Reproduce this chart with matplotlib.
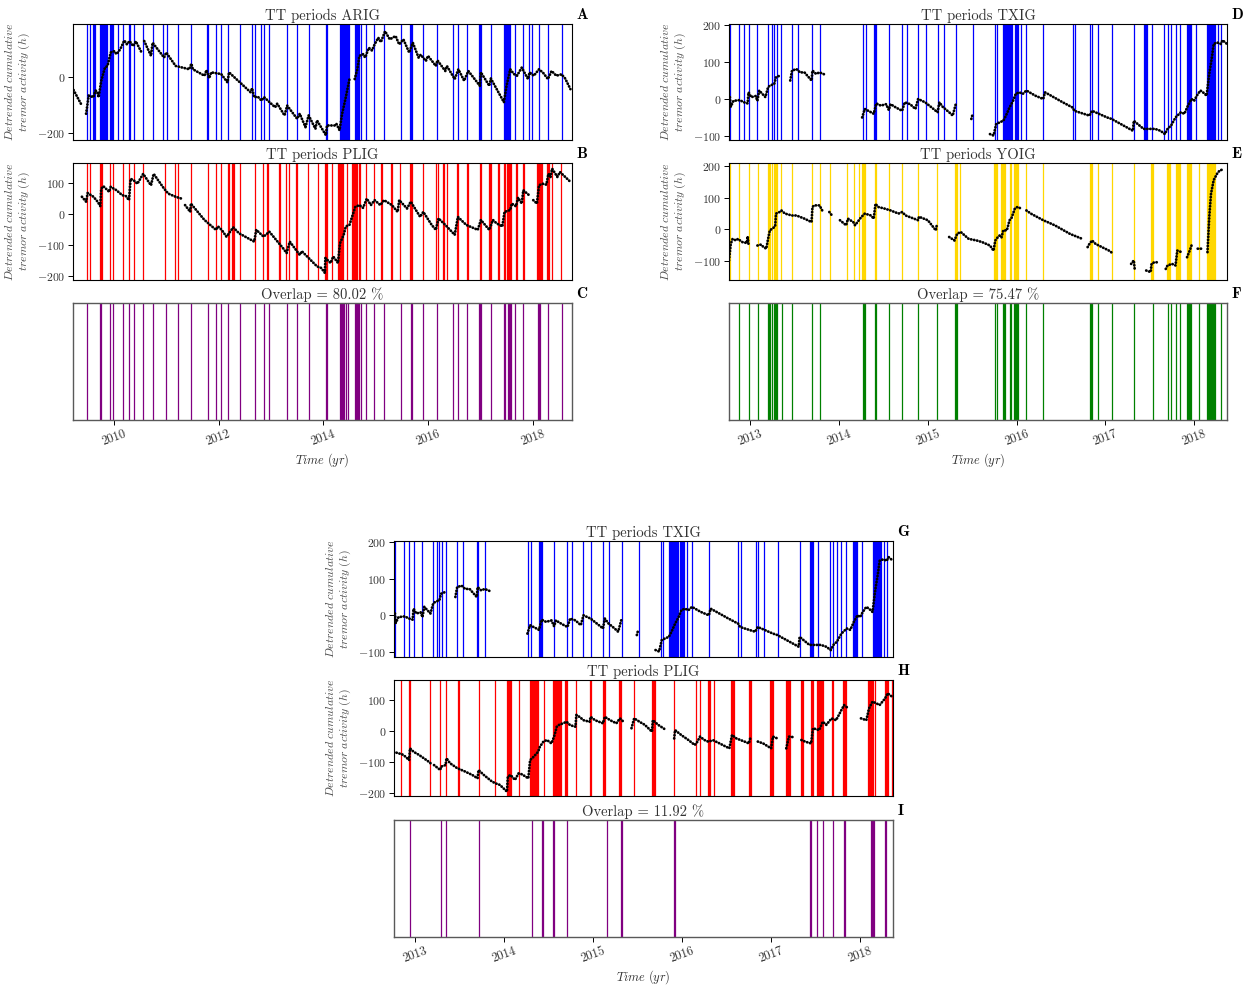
import numpy as np
import matplotlib
matplotlib.use("Agg")
import matplotlib.pyplot as plt

plt.rcParams.update({
    "font.family": "serif",
    "font.serif": ["cmr10"],
    "mathtext.fontset": "cm",
    "axes.formatter.use_mathtext": True,
    "axes.linewidth": 0.8,
})

# ---- tremor (TT) periods, decimal years: (start, end); start == end -> single line
arig_periods = [
    (2009.49, 2009.49), (2009.55, 2009.55), (2009.60, 2009.635), (2009.74, 2009.87),
    (2009.93, 2009.99), (2010.08, 2010.08), (2010.175, 2010.175), (2010.285, 2010.285),
    (2010.31, 2010.31), (2010.39, 2010.39), (2010.55, 2010.55), (2010.75, 2010.75),
    (2010.93, 2010.93), (2011.01, 2011.01), (2011.23, 2011.23), (2011.47, 2011.47),
    (2011.77, 2011.80), (2011.96, 2011.96), (2012.05, 2012.05), (2012.18, 2012.18),
    (2012.41, 2012.41), (2012.64, 2012.64), (2012.69, 2012.69), (2012.82, 2012.82),
    (2012.87, 2012.87), (2012.96, 2012.96), (2013.31, 2013.31), (2013.50, 2013.50),
    (2013.72, 2013.72), (2014.05, 2014.07), (2014.31, 2014.50), (2014.61, 2014.69),
    (2014.72, 2014.72), (2014.81, 2014.81), (2014.96, 2014.96), (2015.15, 2015.15),
    (2015.48, 2015.48), (2015.66, 2015.69), (2015.91, 2015.91), (2016.17, 2016.17),
    (2016.47, 2016.47), (2016.58, 2016.58), (2016.74, 2016.74), (2016.98, 2017.01),
    (2017.20, 2017.20), (2017.45, 2017.57), (2017.66, 2017.66), (2017.81, 2017.81),
    (2017.92, 2017.92), (2017.98, 2017.98), (2018.12, 2018.12), (2018.29, 2018.29),
    (2018.55, 2018.55),
]

plig_periods = [
    (2009.49, 2009.49), (2009.55, 2009.55), (2009.74, 2009.77), (2009.93, 2009.93),
    (2009.99, 2009.99), (2010.175, 2010.175), (2010.29, 2010.29), (2010.39, 2010.39),
    (2010.55, 2010.55), (2010.98, 2010.98), (2011.17, 2011.17), (2011.23, 2011.23),
    (2011.47, 2011.47), (2011.80, 2011.80), (2011.96, 2011.96), (2012.05, 2012.05),
    (2012.18, 2012.20), (2012.25, 2012.29), (2012.41, 2012.41), (2012.69, 2012.69),
    (2012.84, 2012.84), (2012.93, 2012.94), (2013.16, 2013.17), (2013.28, 2013.28),
    (2013.34, 2013.35), (2013.48, 2013.49), (2013.71, 2013.71), (2013.90, 2013.90),
    (2014.03, 2014.07), (2014.16, 2014.16), (2014.29, 2014.38), (2014.45, 2014.45),
    (2014.55, 2014.64), (2014.68, 2014.70), (2014.81, 2014.81), (2014.96, 2014.97),
    (2015.11, 2015.13), (2015.29, 2015.31), (2015.46, 2015.46), (2015.66, 2015.69),
    (2015.91, 2015.91), (2016.16, 2016.16), (2016.20, 2016.20), (2016.29, 2016.31),
    (2016.36, 2016.36), (2016.55, 2016.58), (2016.75, 2016.77), (2016.99, 2017.02),
    (2017.17, 2017.21), (2017.34, 2017.36), (2017.45, 2017.47), (2017.51, 2017.58),
    (2017.68, 2017.70), (2017.81, 2017.84), (2018.09, 2018.15), (2018.17, 2018.17),
    (2018.28, 2018.31), (2018.36, 2018.36), (2018.54, 2018.54),
]

txig_periods = [
    (2012.77, 2012.77), (2012.87, 2012.87), (2012.93, 2012.93), (2012.98, 2012.98),
    (2013.08, 2013.08), (2013.20, 2013.20), (2013.24, 2013.24), (2013.27, 2013.27),
    (2013.30, 2013.30), (2013.35, 2013.35), (2013.47, 2013.47), (2013.54, 2013.54),
    (2013.69, 2013.70), (2013.78, 2013.78), (2014.27, 2014.27), (2014.30, 2014.30),
    (2014.39, 2014.42), (2014.56, 2014.56), (2014.71, 2014.71), (2014.76, 2014.76),
    (2014.89, 2014.89), (2014.98, 2014.98), (2015.11, 2015.11), (2015.18, 2015.18),
    (2015.32, 2015.32), (2015.51, 2015.51), (2015.76, 2015.76), (2015.78, 2015.78),
    (2015.85, 2015.95), (2015.98, 2016.02), (2016.05, 2016.05), (2016.11, 2016.11),
    (2016.30, 2016.30), (2016.63, 2016.63), (2016.66, 2016.66), (2016.83, 2016.83),
    (2016.85, 2016.85), (2016.92, 2016.92), (2017.08, 2017.08), (2017.32, 2017.32),
    (2017.44, 2017.47), (2017.53, 2017.53), (2017.66, 2017.66), (2017.70, 2017.70),
    (2017.74, 2017.74), (2017.79, 2017.79), (2017.84, 2017.84), (2017.92, 2017.97),
    (2018.02, 2018.02), (2018.14, 2018.23), (2018.27, 2018.27), (2018.30, 2018.30),
]

yoig_periods = [
    (2012.77, 2012.77), (2012.87, 2012.87), (2012.98, 2012.98), (2013.09, 2013.09),
    (2013.20, 2013.22), (2013.24, 2013.24), (2013.27, 2013.30), (2013.35, 2013.35),
    (2013.47, 2013.47), (2013.69, 2013.70), (2013.78, 2013.78), (2013.90, 2013.90),
    (2014.09, 2014.09), (2014.17, 2014.17), (2014.23, 2014.23), (2014.26, 2014.29),
    (2014.40, 2014.42), (2014.56, 2014.56), (2014.71, 2014.71), (2014.89, 2014.89),
    (2015.10, 2015.10), (2015.31, 2015.33), (2015.36, 2015.36), (2015.75, 2015.78),
    (2015.82, 2015.87), (2015.92, 2015.94), (2015.97, 2016.01), (2016.11, 2016.11),
    (2016.30, 2016.30), (2016.83, 2016.85), (2016.92, 2016.92), (2017.08, 2017.08),
    (2017.32, 2017.32), (2017.51, 2017.54), (2017.69, 2017.73), (2017.80, 2017.84),
    (2017.92, 2017.97), (2018.05, 2018.05), (2018.15, 2018.23),
]

# overlap periods
arig_plig_overlap = [
    (2009.49, 2009.49), (2009.74, 2009.76), (2009.93, 2009.93), (2009.99, 2009.99),
    (2010.175, 2010.175), (2010.29, 2010.29), (2010.39, 2010.39), (2010.55, 2010.55),
    (2010.75, 2010.75), (2011.00, 2011.00), (2011.23, 2011.23), (2011.47, 2011.47),
    (2011.80, 2011.80), (2011.96, 2011.96), (2012.05, 2012.05), (2012.18, 2012.18),
    (2012.41, 2012.41), (2012.69, 2012.69), (2012.87, 2012.87), (2012.96, 2012.96),
    (2013.31, 2013.31), (2013.50, 2013.50), (2013.72, 2013.72), (2014.05, 2014.07),
    (2014.32, 2014.39), (2014.43, 2014.43), (2014.47, 2014.47), (2014.61, 2014.69),
    (2014.72, 2014.72), (2014.81, 2014.81), (2014.96, 2014.96), (2015.15, 2015.16),
    (2015.48, 2015.48), (2015.67, 2015.69), (2015.91, 2015.91), (2016.17, 2016.17),
    (2016.47, 2016.47), (2016.58, 2016.58), (2016.74, 2016.74), (2016.98, 2017.01),
    (2017.20, 2017.20), (2017.45, 2017.47), (2017.52, 2017.58), (2017.66, 2017.66),
    (2017.81, 2017.82), (2018.10, 2018.13), (2018.29, 2018.29), (2018.55, 2018.55),
]

txig_yoig_overlap = [
    (2012.87, 2012.87), (2012.98, 2012.98), (2013.09, 2013.09), (2013.20, 2013.22),
    (2013.24, 2013.24), (2013.27, 2013.30), (2013.36, 2013.36), (2013.47, 2013.47),
    (2013.69, 2013.70), (2013.78, 2013.78), (2014.27, 2014.29), (2014.40, 2014.42),
    (2014.56, 2014.56), (2014.71, 2014.71), (2014.89, 2014.89), (2015.10, 2015.10),
    (2015.31, 2015.33), (2015.76, 2015.76), (2015.78, 2015.78), (2015.85, 2015.87),
    (2015.92, 2015.94), (2015.97, 2016.01), (2016.11, 2016.11), (2016.30, 2016.30),
    (2016.83, 2016.85), (2016.92, 2016.92), (2017.08, 2017.08), (2017.32, 2017.32),
    (2017.54, 2017.54), (2017.70, 2017.70), (2017.74, 2017.74), (2017.79, 2017.79),
    (2017.84, 2017.84), (2017.92, 2017.97), (2018.05, 2018.05), (2018.15, 2018.23),
    (2018.30, 2018.30),
]

txig_plig_overlap = [
    (2012.94, 2012.94), (2013.29, 2013.29), (2013.34, 2013.34), (2013.71, 2013.71),
    (2014.31, 2014.31), (2014.42, 2014.43), (2014.55, 2014.56), (2014.71, 2014.71),
    (2015.16, 2015.16), (2015.31, 2015.32), (2015.91, 2015.92), (2017.44, 2017.45),
    (2017.52, 2017.52), (2017.58, 2017.58), (2017.69, 2017.69), (2017.82, 2017.83),
    (2018.12, 2018.14), (2018.16, 2018.16), (2018.28, 2018.29),
]

# ---- detrended cumulative tremor activity (h); None = data gap
arig_curve = [
    (2009.23, -46), (2009.39, -102), None,
    (2009.47, -131), (2009.52, -66), (2009.61, -72), (2009.65, -48), (2009.68, -52),
    (2009.71, -72), (2009.76, -13), (2009.83, 34), (2009.88, 40), (2009.94, 88),
    (2010.01, 93), (2010.05, 82), (2010.12, 99), (2010.20, 131), (2010.25, 117),
    (2010.30, 129), (2010.37, 111), (2010.42, 128), (2010.53, 88), None,
    (2010.58, 129), (2010.71, 76), (2010.74, 123), (2010.96, 70), (2011.00, 88),
    (2011.18, 40), (2011.40, 30), (2011.44, 28), (2011.48, 48), (2011.51, 28),
    (2011.73, 5), (2011.77, 25), (2011.82, -4), (2011.86, 17), (2012.05, 11),
    (2012.17, -19), (2012.20, 17), (2012.61, -54), (2012.64, -40), (2012.68, -72),
    (2012.75, -70), (2012.82, -84), (2012.87, -72), (2013.08, -108), (2013.12, -95),
    (2013.26, -137), (2013.31, -102), (2013.50, -149), (2013.55, -131), (2013.66, -179),
    (2013.72, -137), (2013.85, -185), (2013.88, -155), (2014.05, -208), (2014.07, -173),
    (2014.22, -173), (2014.25, -167), (2014.31, -190), (2014.36, -131), (2014.43, -72),
    (2014.50, -7), None,
    (2014.60, -7), (2014.65, 28), (2014.69, 76), (2014.76, 82), (2014.80, 70),
    (2014.87, 105), (2014.93, 95), (2014.98, 117), (2015.05, 141), (2015.10, 125),
    (2015.18, 164), (2015.27, 135), (2015.38, 147), (2015.45, 117), (2015.53, 135),
    (2015.64, 88), (2015.71, 123), (2015.82, 70), (2015.86, 80), (2015.96, 58),
    (2016.00, 76), (2016.15, 40), (2016.18, 60), (2016.33, 22), (2016.36, 40),
    (2016.51, -7), (2016.58, 28), (2016.69, -13), (2016.77, 22), (2016.99, -31),
    (2017.01, 17), (2017.17, -31), (2017.20, -5), (2017.45, -90), (2017.50, -31),
    (2017.57, 28), (2017.64, 11), (2017.70, 5), (2017.79, 34), (2017.91, -7),
    (2017.94, 17), (2018.02, 5), (2018.12, 28), (2018.20, 15), (2018.29, -7),
    (2018.36, 22), (2018.45, 5), (2018.55, 10), (2018.62, -5), (2018.72, -43),
]

plig_curve_long = [
    (2009.23, 104), None,
    (2009.39, 56), (2009.47, 40), (2009.50, 68), (2009.61, 56), (2009.69, 40),
    (2009.74, 26), (2009.76, 82), (2009.80, 90), (2009.91, 72), (2009.94, 88),
    (2010.05, 77), (2010.16, 61), (2010.23, 58), (2010.29, 45), (2010.32, 114),
    (2010.38, 109), (2010.45, 98), (2010.56, 130), (2010.64, 110), (2010.71, 93),
    (2010.76, 130), (2010.96, 82), (2011.04, 66), (2011.18, 56), (2011.29, 50), None,
    (2011.36, 29), (2011.46, 7), (2011.47, 34), (2011.73, -19), (2011.84, -35),
    (2011.95, -51), (2011.99, -40), (2012.06, -51), (2012.15, -73), (2012.20, -62),
    (2012.28, -43), (2012.39, -62), (2012.68, -89), (2012.72, -51), (2012.86, -73),
    (2012.97, -57), (2013.23, -110), (2013.30, -126), (2013.36, -89), (2013.55, -132),
    (2013.59, -120), (2013.88, -169), (2013.96, -174), (2014.03, -190), (2014.04, -142),
    (2014.14, -158), (2014.19, -137), (2014.28, -158), (2014.32, -94), (2014.39, -67),
    (2014.43, -40), (2014.50, -35), (2014.58, 7), (2014.61, 23), (2014.69, 29),
    (2014.76, 20), (2014.83, 50), (2014.91, 29), (2014.98, 45), (2015.09, 29),
    (2015.16, 45), (2015.31, 29), (2015.42, 7), (2015.45, 45), (2015.60, 18),
    (2015.67, 40), (2015.85, -9), (2015.91, 7), (2016.07, -35), (2016.15, -51),
    (2016.20, -14), (2016.33, -35), (2016.51, -67), (2016.57, -9), (2016.73, -35),
    (2016.95, -51), (2017.01, -19), (2017.17, -51), (2017.24, -19), (2017.31, -30),
    (2017.42, -40), (2017.46, 7), (2017.57, 13), (2017.60, 34), (2017.68, 25),
    (2017.72, 53), (2017.79, 34), (2017.82, 77), (2017.93, 61), None,
    (2018.01, 45), (2018.08, 34), (2018.12, 93), (2018.19, 98), (2018.26, 95),
    (2018.30, 130), (2018.34, 120), (2018.37, 147), (2018.47, 120), (2018.52, 136),
    (2018.72, 104),
]

txig_curve = [
    (2012.77, 5), (2012.78, -21), (2012.81, -5), (2012.88, -3), (2012.93, -9),
    (2012.97, -12), (2012.98, 18), (2013.01, 5), (2013.06, 8), (2013.08, -5),
    (2013.10, 23), (2013.17, 5), (2013.20, 32), (2013.22, 36), (2013.27, 41),
    (2013.29, 59), (2013.33, 63), None,
    (2013.45, 50), (2013.47, 77), (2013.52, 81), (2013.56, 72), (2013.61, 72),
    (2013.69, 50), (2013.70, 77), (2013.74, 68), (2013.78, 72), (2013.84, 66), None,
    (2014.26, -50), (2014.29, -27), (2014.36, -36), (2014.39, -40), (2014.42, -12),
    (2014.47, -18), (2014.53, -14), (2014.56, -30), (2014.58, -14), (2014.64, -23),
    (2014.71, -32), (2014.74, -9), (2014.80, -14), (2014.86, -27), (2014.89, 0),
    (2014.97, -9), (2015.11, -36), (2015.13, -9), (2015.17, -22), (2015.24, -36),
    (2015.28, -45), (2015.32, -9), None,
    (2015.49, -54), (2015.50, -45), None,
    (2015.70, -95), (2015.74, -99), (2015.77, -68), (2015.81, -63), (2015.85, -59),
    (2015.88, -45), (2015.92, -23), (2015.96, -5), (2015.99, 14), (2016.03, 18),
    (2016.07, 14), (2016.11, 23), (2016.21, 9), (2016.30, 0), (2016.32, 18),
    (2016.38, 10), (2016.52, -9), (2016.63, -23), (2016.65, -32), (2016.82, -45),
    (2016.85, -32), (2017.02, -50), (2017.07, -54), (2017.31, -86), (2017.32, -59),
    (2017.35, -65), (2017.43, -81), (2017.48, -81), (2017.56, -81), (2017.62, -86),
    (2017.67, -95), (2017.70, -81), (2017.74, -72), (2017.79, -50), (2017.85, -36),
    (2017.89, -40), (2017.93, -18), (2017.97, 0), (2018.00, -5), (2018.03, 9),
    (2018.07, 23), (2018.10, 18), (2018.14, 9), (2018.17, 68), (2018.20, 113),
    (2018.22, 149), (2018.26, 153), (2018.30, 149), (2018.32, 159), (2018.37, 149),
]

yoig_curve = [
    (2012.76, -98), (2012.78, -46), (2012.80, -30), (2012.84, -35), (2012.86, -30),
    (2012.91, -40), (2012.96, -43), (2012.97, -22), (2012.98, -48), None,
    (2013.08, -51), (2013.12, -48), (2013.15, -56), (2013.18, -61), (2013.20, -30),
    (2013.22, -3), (2013.26, 5), (2013.28, 10), (2013.29, 50), (2013.33, 55),
    (2013.35, 60), (2013.39, 50), (2013.47, 44), (2013.52, 44), (2013.61, 34),
    (2013.69, 23), (2013.70, 71), (2013.72, 76), (2013.78, 76), (2013.81, 60), None,
    (2013.89, 55), (2013.92, 44), None,
    (2014.01, 29), (2014.08, 13), (2014.10, 34), (2014.16, 23), (2014.18, 13),
    (2014.25, 39), (2014.29, 50), (2014.36, 44), (2014.39, 34), (2014.41, 81),
    (2014.44, 71), (2014.51, 66), (2014.58, 60), (2014.67, 50), (2014.71, 55),
    (2014.75, 44), (2014.89, 29), (2014.90, 40), (2015.00, 29), (2015.09, -3),
    (2015.10, 13), None,
    (2015.24, -24), (2015.30, -35), (2015.33, -14), (2015.37, -8), (2015.46, -30),
    (2015.55, -35), (2015.61, -40), (2015.70, -51), (2015.74, -67), (2015.76, -35),
    (2015.79, -24), (2015.81, -19), (2015.83, -25), (2015.85, -3), (2015.89, -3),
    (2015.92, 29), (2015.94, 34), (2015.98, 66), (2016.01, 71), (2016.05, 66), None,
    (2016.11, 60), (2016.16, 50), (2016.30, 29), (2016.43, 13), (2016.60, -14),
    (2016.74, -30), None,
    (2016.80, -56), (2016.82, -46), (2016.85, -35), (2016.89, -46), (2017.04, -67),
    (2017.09, -77), None,
    (2017.29, -109), (2017.32, -98), (2017.33, -125), None,
    (2017.46, -130), (2017.51, -135), (2017.52, -109), (2017.55, -104), (2017.59, -104), None,
    (2017.68, -125), (2017.70, -114), (2017.75, -109), (2017.79, -114), (2017.81, -67),
    (2017.86, -72), None,
    (2017.92, -88), (2017.95, -67), (2017.97, -51), None,
    (2018.04, -61), (2018.10, -61), None,
    (2018.15, -72), (2018.17, 39), (2018.19, 113), (2018.22, 156), (2018.26, 177),
    (2018.29, 187), (2018.32, 189),
]

plig_curve_short = [
    (2012.755, -67), (2012.81, -72), (2012.85, -75), (2012.89, -83), (2012.93, -94),
    (2012.94, -56), (2012.98, -67), (2013.04, -77), (2013.15, -99), (2013.17, -104), None,
    (2013.21, -110), (2013.28, -126), (2013.29, -115), (2013.34, -110), (2013.35, -88),
    (2013.39, -104), (2013.47, -120), (2013.56, -131), (2013.64, -142), (2013.70, -153),
    (2013.71, -126), (2013.77, -142), (2013.86, -163), (2013.90, -169), (2013.95, -174),
    (2013.99, -185), (2014.03, -196), (2014.04, -147), (2014.07, -142), (2014.12, -158),
    (2014.16, -137), (2014.20, -140), (2014.27, -153), (2014.29, -94), (2014.33, -83),
    (2014.38, -67), (2014.40, -51), (2014.44, -34), (2014.48, -29), (2014.53, -40),
    (2014.56, -18), (2014.59, 14), (2014.61, 19), (2014.66, 25), (2014.70, 30),
    (2014.74, 19), (2014.80, 14), (2014.81, 52), (2014.85, 45), (2014.89, 35),
    (2014.96, 30), (2014.97, 46), (2015.02, 35), (2015.11, 25), (2015.13, 46),
    (2015.19, 35), (2015.26, 25), (2015.30, 41), (2015.34, 30), None,
    (2015.43, 9), (2015.46, 41), (2015.52, 30), (2015.58, 20), (2015.66, -2),
    (2015.67, 35), (2015.73, 20), (2015.82, 3), None,
    (2015.91, -24), (2015.92, 3), (2015.99, -13), (2016.07, -29), (2016.14, -45),
    (2016.16, -40), (2016.20, -18), (2016.25, -29), (2016.29, -34), (2016.35, -30),
    (2016.42, -40), (2016.53, -56), (2016.56, -13), (2016.61, -24), (2016.70, -34),
    (2016.75, -40), (2016.77, -18), None,
    (2016.85, -34), (2016.91, -40), (2017.00, -56), (2017.02, -18), (2017.08, -25), None,
    (2017.17, -56), (2017.20, -18), (2017.26, -20), None,
    (2017.34, -29), (2017.39, -35), (2017.45, -40), (2017.47, 9), (2017.54, 3),
    (2017.58, 30), (2017.62, 20), (2017.68, 41), (2017.73, 35), (2017.82, 84),
    (2017.86, 75), None,
    (2018.01, 41), (2018.07, 35), (2018.10, 73), (2018.14, 95), (2018.18, 90),
    (2018.22, 84), (2018.28, 105), (2018.31, 122), (2018.36, 111),
]

overlap_pct = {"AP": 80.02, "TY": 75.47, "TP": 11.92}

xlim_long = (2009.22, 2018.75)
xlim_short = (2012.76, 2018.37)
years_long = [2010, 2012, 2014, 2016, 2018]
years_short = [2013, 2014, 2015, 2016, 2017, 2018]

YLABEL = "$Detrended\\ cumulative$\n$tremor\\ activity\\ (h)$"
TXT = "0.2"


def to_xy(curve):
    t, v = [], []
    for p in curve:
        if p is None:
            t.append(np.nan)
            v.append(np.nan)
        else:
            t.append(p[0])
            v.append(p[1])
    return np.array(t), np.array(v)


def draw_periods(ax, periods, color):
    for s, e in periods:
        if e - s < 1e-6:
            ax.axvline(s, color=color, lw=0.9, zorder=1)
        else:
            ax.axvspan(s, e, color=color, lw=0.9, zorder=1)


def station_panel(ax, periods, color, curve, title, letter, xlim, ylim, yticks):
    draw_periods(ax, periods, color)
    t, v = to_xy(curve)
    ax.plot(t, v, color="k", lw=2.0, ls=(0, (0.1, 1.0)), dash_capstyle="round", zorder=3)
    ax.set_xlim(*xlim)
    ax.set_ylim(*ylim)
    ax.set_yticks(yticks)
    ax.set_xticks([])
    ax.tick_params(axis="y", labelsize=8.5, labelcolor=TXT, length=3.5, width=0.7, pad=2)
    ax.set_title(title, fontsize=10.5, pad=3, color=TXT)
    ax.set_ylabel(YLABEL, fontsize=8.5, color="0.3")
    ax.yaxis.set_label_coords(-0.082, 0.5)
    ax.text(1.008, 1.02, "$\\mathbf{%s}$" % letter, transform=ax.transAxes,
            fontsize=11, ha="left", va="bottom")


def overlap_panel(ax, periods, color, pct, letter, xlim, years):
    draw_periods(ax, periods, color)
    ax.set_xlim(*xlim)
    ax.set_ylim(0, 1)
    ax.set_yticks([])
    ax.set_xticks(years)
    ax.set_xticklabels([str(y) for y in years], rotation=20, fontsize=9, color=TXT)
    ax.tick_params(axis="x", length=3.5, width=0.7, pad=2)
    for sp in ax.spines.values():
        sp.set_color("0.35")
        sp.set_linewidth(1.0)
    ax.set_title("Overlap = %.2f %%" % pct, fontsize=10.5, pad=3, color=TXT)
    ax.set_xlabel("$Time\\ (yr)$", fontsize=9, labelpad=3, color=TXT)
    ax.text(1.008, 1.02, "$\\mathbf{%s}$" % letter, transform=ax.transAxes,
            fontsize=11, ha="left", va="bottom")


W, H = 1253, 985
fig = plt.figure(figsize=(W / 100, H / 100), dpi=100)


def box(x0, x1, y0, y1):
    return [x0 / W, 1 - y1 / H, (x1 - x0) / W, (y1 - y0) / H]


axA = fig.add_axes(box(73, 572, 24, 140))
axB = fig.add_axes(box(73, 572, 163, 280))
axC = fig.add_axes(box(73, 572, 303, 420))
axD = fig.add_axes(box(729, 1227, 24, 140))
axE = fig.add_axes(box(729, 1227, 163, 280))
axF = fig.add_axes(box(729, 1227, 303, 420))
axG = fig.add_axes(box(394, 893, 541, 657))
axH = fig.add_axes(box(394, 893, 680, 796))
axI = fig.add_axes(box(394, 893, 820, 937))

station_panel(axA, arig_periods, "blue", arig_curve, "TT periods ARIG", "A",
              xlim_long, (-225, 190), [-200, 0])
station_panel(axB, plig_periods, "red", plig_curve_long, "TT periods PLIG", "B",
              xlim_long, (-213, 165), [-200, -100, 0, 100])
overlap_panel(axC, arig_plig_overlap, "purple", overlap_pct["AP"], "C", xlim_long, years_long)

station_panel(axD, txig_periods, "blue", txig_curve, "TT periods TXIG", "D",
              xlim_short, (-111, 203), [-100, 0, 100, 200])
station_panel(axE, yoig_periods, "gold", yoig_curve, "TT periods YOIG", "E",
              xlim_short, (-160, 210), [-100, 0, 100, 200])
overlap_panel(axF, txig_yoig_overlap, "green", overlap_pct["TY"], "F", xlim_short, years_short)

station_panel(axG, txig_periods, "blue", txig_curve, "TT periods TXIG", "G",
              xlim_short, (-114, 203), [-100, 0, 100, 200])
station_panel(axH, plig_periods, "red", plig_curve_short, "TT periods PLIG", "H",
              xlim_short, (-210, 165), [-200, -100, 0, 100])
overlap_panel(axI, txig_plig_overlap, "purple", overlap_pct["TP"], "I", xlim_short, years_short)

fig.savefig("out.png", dpi=100)
